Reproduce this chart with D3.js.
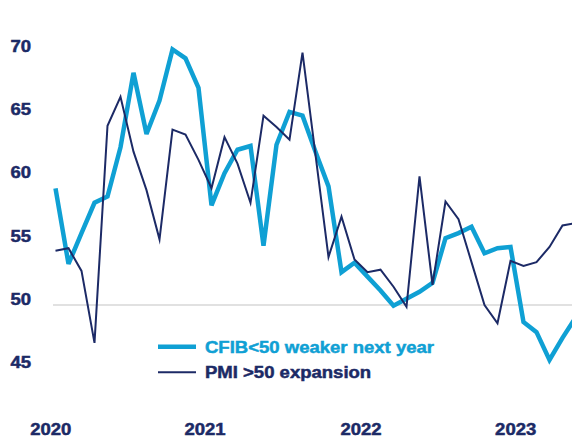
<!DOCTYPE html>
<html>
<head>
<meta charset="utf-8">
<script src="https://cdn.jsdelivr.net/npm/d3@7"></script>
<style>
  html, body { margin: 0; padding: 0; background: #ffffff; }
  svg { display: block; }
  text { font-family: "Liberation Sans", Arial, sans-serif; font-weight: bold; }
</style>
</head>
<body>
<div id="chart"></div>
<script>
// Monthly readings from January 2020 onward (index = month number)
const cfib = [59.25, 53.25, 55.7, 58.1, 58.6, 62.5, 68.4, 63.55, 66.2, 70.25,
              69.55, 67.2, 57.9, 60.45, 62.3, 62.6, 54.7, 62.7, 65.3, 65.0,
              62.15, 59.4, 52.6, 53.35, 52.25, 51.15, 49.95, 50.5, 51.05, 51.75,
              55.3, 55.7, 56.2, 54.1, 54.5, 54.6, 48.65, 47.85, 45.65, 47.4, 49.0];
const pmi  = [54.3, 54.5, 52.7, 47.0, 64.2, 66.5, 62.15, 59.1, 55.2, 63.9,
              63.5, 61.5, 59.25, 63.3, 61.2, 58.1, 65.0, 64.1, 63.1, 70.0,
              61.9, 53.8, 57.0, 53.6, 52.6, 52.8, 51.45, 49.85, 60.2, 51.6,
              58.2, 56.8, 53.4, 50.0, 48.55, 53.5, 53.1, 53.4, 54.6, 56.3, 56.5];

const yTicks = [45, 50, 55, 60, 65, 70];
const yearLabels = ["2020", "2021", "2022", "2023"];
const yearPos = [-0.36, 11.5, 23.5, 35.4];   // month index under each year label

const seriesNames = ["CFIB<50 weaker next year", "PMI >50 expansion"];
const colors = { cfib: "#0fa0d4", pmi: "#1c2a66" };
const refLevel = 50;

const W = 572, H = 439;
const svg = d3.select("#chart").append("svg")
  .attr("width", W).attr("height", H);

const x = d3.scaleLinear().domain([0, 40]).range([55.5, 575.5]);
const y = d3.scaleLinear().domain([45, 70]).range([368.1, 52.6]);

const stretch = 1.09;

// Reference line at 50
svg.append("line")
  .attr("x1", 53).attr("x2", W)
  .attr("y1", y(refLevel)).attr("y2", y(refLevel))
  .attr("stroke", "#c4c4c4").attr("stroke-width", 1.2);

// Value labels on the left
svg.append("g").selectAll("g")
  .data(yTicks).join("g")
  .attr("transform", d => `translate(31,${y(d) - 6.5}) scale(${stretch},1)`)
  .append("text")
  .attr("text-anchor", "end")
  .attr("dy", "0.36em")
  .attr("font-size", 17)
  .attr("fill", "#1c2a66")
  .attr("stroke", "#1c2a66")
  .attr("stroke-width", 0.5)
  .text(d => d);

// Year labels along the bottom
svg.append("g").selectAll("g")
  .data(yearLabels).join("g")
  .attr("transform", (d, i) => `translate(${x(yearPos[i])},435) scale(${stretch},1)`)
  .append("text")
  .attr("text-anchor", "middle")
  .attr("font-size", 17)
  .attr("fill", "#1c2a66")
  .attr("stroke", "#1c2a66")
  .attr("stroke-width", 0.5)
  .text(d => d);

const line = d3.line()
  .x((d, i) => x(i))
  .y(d => y(d))
  .curve(d3.curveLinear);

svg.append("path")
  .datum(cfib)
  .attr("d", line)
  .attr("fill", "none")
  .attr("stroke", colors.cfib)
  .attr("stroke-width", 4.5)
  .attr("stroke-linejoin", "miter")
  .attr("stroke-miterlimit", 3);

svg.append("path")
  .datum(pmi)
  .attr("d", line)
  .attr("fill", "none")
  .attr("stroke", colors.pmi)
  .attr("stroke-width", 2)
  .attr("stroke-linejoin", "miter")
  .attr("stroke-miterlimit", 6);

// Legend
const legend = [
  { name: seriesNames[0], color: colors.cfib, width: 4.5, cy: 346.7 },
  { name: seriesNames[1], color: colors.pmi, width: 2, cy: 372.3 }
];
const lg = svg.append("g").selectAll("g").data(legend).join("g");
lg.append("line")
  .attr("x1", 158).attr("x2", 196)
  .attr("y1", d => d.cy).attr("y2", d => d.cy)
  .attr("stroke", d => d.color)
  .attr("stroke-width", d => d.width);
lg.append("g")
  .attr("transform", d => `translate(205,${d.cy + 6}) scale(${stretch},1)`)
  .append("text")
  .attr("font-size", 17)
  .attr("fill", d => d.color)
  .attr("stroke", d => d.color)
  .attr("stroke-width", 0.5)
  .text(d => d.name);
</script>
</body>
</html>
